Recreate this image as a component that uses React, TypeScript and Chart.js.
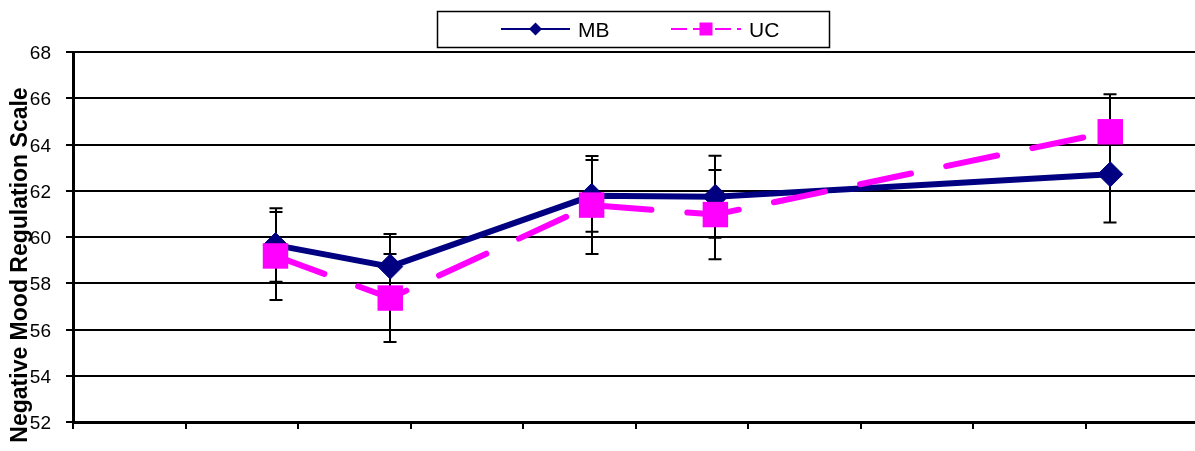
import React, { useEffect, useRef } from "react";
import { Chart, registerables } from "chart.js";

Chart.register(...registerables);

const xValues = [1.8, 2.82, 4.61, 5.71, 9.22];
const mbValues = [59.65, 58.72, 61.78, 61.74, 62.71];
const ucValues = [59.18, 57.36, 61.38, 60.97, 64.55];
const mbErrors = [1.59, 1.41, 1.55, 1.77, 2.08];
const ucErrors = [1.9, 1.9, 2.12, 1.93, 1.62];
const seriesNames = ["MB", "UC"];
const yAxisTitle = "Negative Mood Regulation Scale";

const NAVY = "#000080";
const MAGENTA = "#FF00FF";

const errorBarPlugin = {
  id: "errorBars",
  beforeDatasetsDraw(chart: any) {
    const ctx = chart.ctx;
    const xs = chart.scales.x;
    const ys = chart.scales.y;
    const errs = [mbErrors, ucErrors];
    const vals = [mbValues, ucValues];
    ctx.save();
    ctx.strokeStyle = "#000";
    ctx.lineWidth = 2;
    for (let d = 0; d < 2; d++) {
      for (let i = 0; i < xValues.length; i++) {
        const px = Math.round(xs.getPixelForValue(xValues[i]));
        const top = ys.getPixelForValue(vals[d][i] + errs[d][i]);
        const bot = ys.getPixelForValue(vals[d][i] - errs[d][i]);
        ctx.beginPath();
        ctx.moveTo(px, top);
        ctx.lineTo(px, bot);
        ctx.moveTo(px - 6.5, top);
        ctx.lineTo(px + 6.5, top);
        ctx.moveTo(px - 6.5, bot);
        ctx.lineTo(px + 6.5, bot);
        ctx.stroke();
      }
    }
    ctx.restore();
  },
};

const decorPlugin = {
  id: "decor",
  afterDraw(chart: any) {
    const ctx = chart.ctx;
    ctx.save();
    // y-axis title
    ctx.translate(27, 265);
    ctx.rotate(-Math.PI / 2);
    ctx.font = "bold 23px Arial, 'Liberation Sans', sans-serif";
    ctx.fillStyle = "#000";
    ctx.textAlign = "center";
    ctx.textBaseline = "alphabetic";
    ctx.fillText(yAxisTitle, 0, 0);
    ctx.restore();

    // legend
    ctx.save();
    ctx.fillStyle = "#fff";
    ctx.fillRect(437.5, 11.5, 392, 36);
    ctx.strokeStyle = "#000";
    ctx.lineWidth = 1.5;
    ctx.strokeRect(437.5, 11.5, 392, 36);
    const ly = 29;
    // MB
    ctx.strokeStyle = NAVY;
    ctx.lineWidth = 2;
    ctx.beginPath();
    ctx.moveTo(501, ly);
    ctx.lineTo(570, ly);
    ctx.stroke();
    ctx.fillStyle = NAVY;
    ctx.beginPath();
    ctx.moveTo(535.5 - 6.5, ly);
    ctx.lineTo(535.5, ly - 6.5);
    ctx.lineTo(535.5 + 6.5, ly);
    ctx.lineTo(535.5, ly + 6.5);
    ctx.closePath();
    ctx.fill();
    // UC
    ctx.strokeStyle = MAGENTA;
    ctx.setLineDash([16, 6]);
    ctx.beginPath();
    ctx.moveTo(671, ly);
    ctx.lineTo(741, ly);
    ctx.stroke();
    ctx.setLineDash([]);
    ctx.fillStyle = MAGENTA;
    ctx.fillRect(706 - 6.5, ly - 6.5, 13, 13);
    // text
    ctx.fillStyle = "#000";
    ctx.font = "21px Arial, 'Liberation Sans', sans-serif";
    ctx.textAlign = "left";
    ctx.textBaseline = "alphabetic";
    ctx.fillText(seriesNames[0], 578, 37);
    ctx.fillText(seriesNames[1], 749, 37);
    ctx.restore();
  },
};

export default function App() {
  const ref = useRef<HTMLCanvasElement | null>(null);
  useEffect(() => {
    if (!ref.current) return;
    const chart = new Chart(ref.current, {
      type: "scatter",
      data: {
        datasets: [
          {
            label: seriesNames[0],
            data: xValues.map((x, i) => ({ x, y: mbValues[i] })),
            showLine: true,
            borderColor: NAVY,
            backgroundColor: NAVY,
            borderWidth: 6,
            pointStyle: "rectRot",
            pointRadius: 12.5,
            pointBorderWidth: 1,
            pointBorderColor: NAVY,
            pointBackgroundColor: NAVY,
            order: 2,
          },
          {
            label: seriesNames[1],
            data: xValues.map((x, i) => ({ x, y: ucValues[i] })),
            showLine: true,
            borderColor: MAGENTA,
            backgroundColor: MAGENTA,
            borderWidth: 6,
            borderDash: [52, 36],
            borderCapStyle: "round",
            pointStyle: "rect",
            pointRadius: 18,
            pointBorderWidth: 0,
            pointBackgroundColor: MAGENTA,
            order: 1,
          } as any,
        ],
      },
      options: {
        animation: false,
        responsive: false,
        events: [],
        layout: { autoPadding: false, padding: { top: 52, right: 0, left: 0, bottom: 0 } },
        plugins: {
          legend: { display: false },
          tooltip: { enabled: false },
          title: { display: false },
        },
        scales: {
          x: {
            type: "linear",
            min: 0,
            max: (1195 - 73) / 112.5,
            ticks: { display: false, stepSize: 1, includeBounds: false },
            grid: {
              display: true,
              drawOnChartArea: false,
              drawTicks: true,
              tickLength: 7,
              color: "#000",
              lineWidth: 2,
            },
            border: { display: true, color: "#000", width: 3 },
            afterFit: (s: any) => {
              s.height = 29;
              s.paddingLeft = 0;
              s.paddingRight = 0;
            },
          },
          y: {
            min: 52,
            max: 68,
            ticks: {
              stepSize: 2,
              color: "#000",
              padding: 15,
              labelOffset: 2,
              font: { family: "Arial, 'Liberation Sans', sans-serif", size: 19 },
            },
            grid: {
              color: "#000",
              lineWidth: 2,
              drawTicks: true,
              tickLength: 7,
            },
            border: { display: true, color: "#000", width: 3 },
            afterFit: (s: any) => {
              s.width = 73;
              s.paddingTop = 0;
              s.paddingBottom = 0;
            },
          },
        },
      },
      plugins: [errorBarPlugin, decorPlugin],
    } as any);
    return () => chart.destroy();
  }, []);
  return (
    <div style={{ position: "absolute", left: 0, top: 0, width: 1195, height: 451, background: "#fff" }}>
      <canvas ref={ref} width={1195} height={451} style={{ display: "block" }} />
    </div>
  );
}
